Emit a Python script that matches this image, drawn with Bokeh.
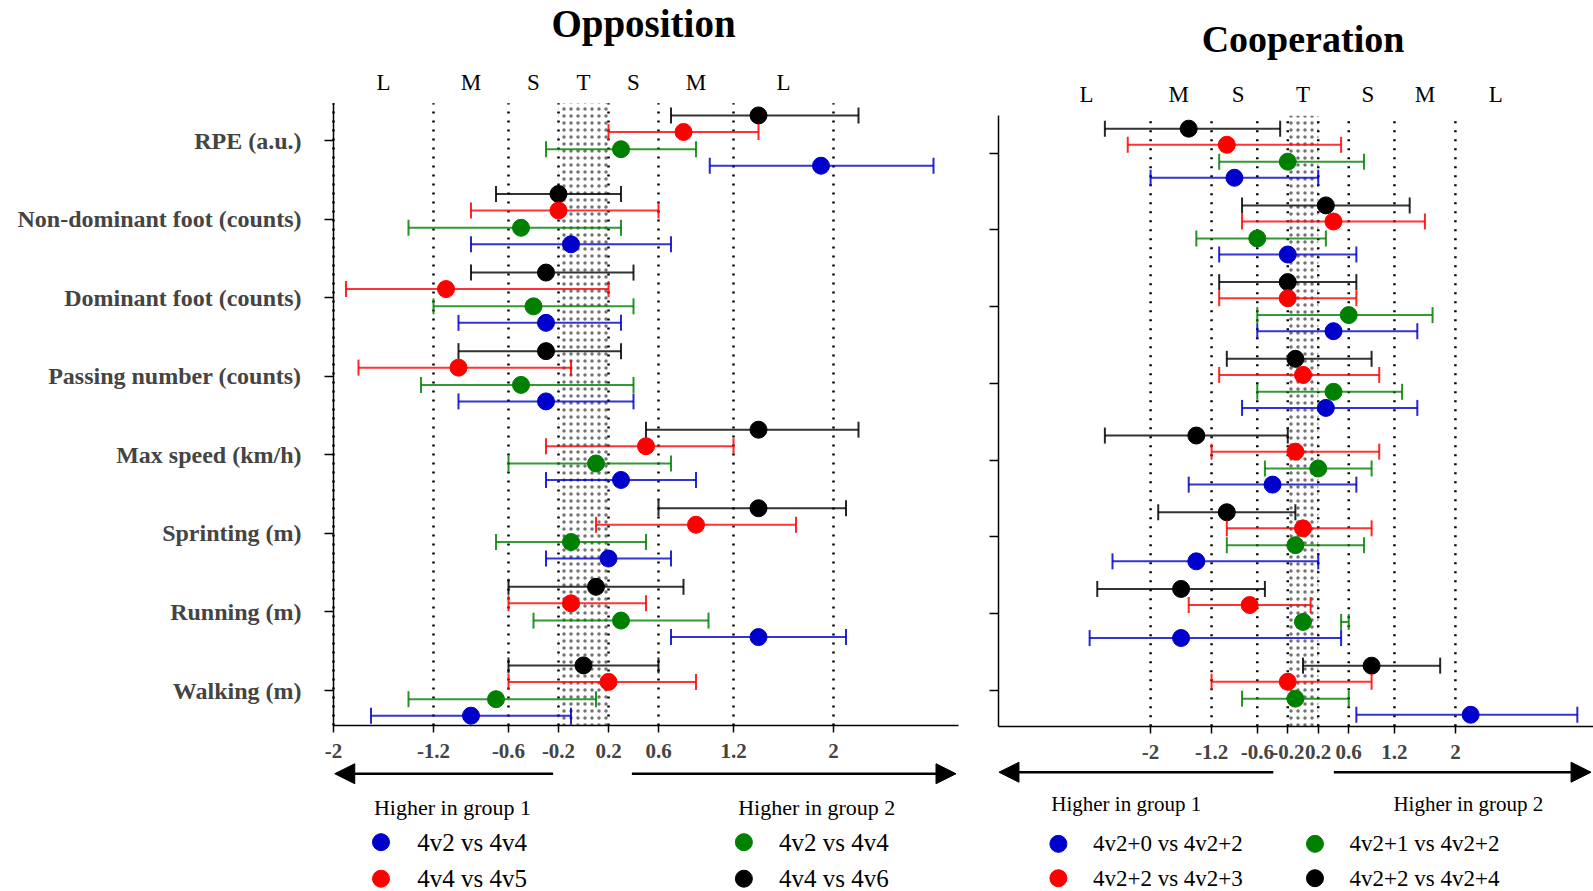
import math
from bokeh.plotting import figure
from bokeh.models import (Range1d, FixedTicker, NumeralTickFormatter, Arrow, NormalHead)
from bokeh.layouts import row
from bokeh.core.properties import value
from bokeh.embed import file_html
from bokeh.resources import INLINE

# ---------------- data ----------------
categories = ["RPE (a.u.)", "Non-dominant foot (counts)", "Dominant foot (counts)",
              "Passing number (counts)", "Max speed (km/h)", "Sprinting (m)",
              "Running (m)", "Walking (m)"]
thresholds = [-2, -1.2, -0.6, -0.2, 0.2, 0.6, 1.2, 2]
zone_labels = ["L", "M", "S", "T", "S", "M", "L"]

# Opposition (series: blue, red, green, black)
opp_names = ["4v2 vs 4v4", "4v4 vs 4v5", "4v2 vs 4v4", "4v4 vs 4v6"]
opp_blue_es = [1.90, -0.10, -0.30, -0.30, 0.30, 0.20, 1.40, -0.90]
opp_blue_lo = [1.01, -0.90, -1.00, -1.00, -0.30, -0.30, 0.70, -1.70]
opp_blue_hi = [2.80, 0.70, 0.30, 0.40, 0.90, 0.70, 2.10, -0.10]
opp_red_es = [0.80, -0.20, -1.10, -1.00, 0.50, 0.90, -0.10, 0.20]
opp_red_lo = [0.20, -0.90, -1.90, -1.80, -0.30, 0.10, -0.60, -0.60]
opp_red_hi = [1.40, 0.60, 0.20, -0.10, 1.20, 1.70, 0.50, 0.90]
opp_green_es = [0.30, -0.50, -0.40, -0.50, 0.10, -0.10, 0.30, -0.70]
opp_green_lo = [-0.30, -1.40, -1.20, -1.30, -0.60, -0.70, -0.40, -1.40]
opp_green_hi = [0.90, 0.30, 0.40, 0.40, 0.70, 0.50, 1.00, 0.10]
opp_black_es = [1.40, -0.20, -0.30, -0.30, 1.40, 1.40, 0.10, 0.00]
opp_black_lo = [0.70, -0.70, -0.90, -1.00, 0.50, 0.60, -0.60, -0.60]
opp_black_hi = [2.20, 0.30, 0.40, 0.30, 2.20, 2.10, 0.80, 0.60]

# Cooperation (series: blue, red, green, black)
coop_names = ["4v2+0 vs 4v2+2", "4v2+2 vs 4v2+3", "4v2+1 vs 4v2+2", "4v2+2 vs 4v2+4"]
coop_blue_es = [-0.90, -0.20, 0.40, 0.30, -0.40, -1.40, -1.60, 2.20]
coop_blue_lo = [-2.00, -1.10, -0.60, -0.80, -1.50, -2.50, -2.80, 0.70]
coop_blue_hi = [0.20, 0.70, 1.50, 1.50, 0.70, 0.20, 0.50, 3.60]
coop_red_es = [-1.00, 0.40, -0.20, 0.00, -0.10, 0.00, -0.70, -0.20]
coop_red_lo = [-2.30, -0.80, -1.10, -1.10, -1.20, -1.00, -1.50, -1.20]
coop_red_hi = [0.50, 1.60, 0.70, 1.00, 1.00, 0.90, 0.10, 0.90]
coop_green_es = [-0.20, -0.60, 0.60, 0.40, 0.20, -0.10, 0.00, -0.10]
coop_green_lo = [-1.10, -1.40, -0.60, -0.60, -0.50, -1.00, 0.50, -0.80]
coop_green_hi = [0.80, 0.30, 1.70, 1.30, 0.90, 0.80, 0.60, 0.60]
coop_black_es = [-1.50, 0.30, -0.20, -0.10, -1.40, -1.00, -1.60, 0.90]
coop_black_lo = [-2.60, -0.80, -1.10, -1.00, -2.60, -1.90, -2.70, 0.00]
coop_black_hi = [-0.30, 1.40, 0.70, 0.90, -0.20, -0.10, -0.50, 1.80]

# ---------------- style ----------------
SERIF = value("Liberation Serif")
COLORS = {"blue": "#0000CD", "red": "#FF0000", "green": "#008000", "black": "#000000"}
OFFSETS = {"black": 0.32, "red": 0.11, "green": -0.11, "blue": -0.32}
cat_y = [8 - i for i in range(len(categories))]


def make_panel(cfg, series, names):
    p = figure(width=cfg["w"], height=891,
               x_range=Range1d(*cfg["xr"]), y_range=Range1d(*cfg["yr"]),
               output_backend="svg", toolbar_location=None, min_border=0,
               outline_line_color=None, background_fill_color="white",
               border_fill_color="white")
    p.grid.visible = False
    bottom, top = cfg["xaxis_y"], cfg["yaxis_top"]

    # x axis
    xa = p.xaxis[0]
    xa.fixed_location = bottom
    xa.bounds = (cfg["yaxis_x"], cfg["xaxis_end"])
    xa.ticker = FixedTicker(ticks=thresholds)
    xa.formatter = NumeralTickFormatter(format="0.[0]")
    xa.axis_line_width = 1.5
    xa.major_tick_line_width = 1.5
    xa.major_tick_out = 7
    xa.major_tick_in = 0
    xa.minor_tick_line_color = None
    xa.major_label_text_font = "Liberation Serif"
    xa.major_label_text_font_style = "bold"
    xa.major_label_text_font_size = cfg["tick_fs"]
    xa.major_label_standoff = 12

    # y axis
    ya = p.yaxis[0]
    ya.fixed_location = cfg["yaxis_x"]
    ya.bounds = (bottom, top)
    ya.ticker = FixedTicker(ticks=cat_y)
    ya.axis_line_width = 1.5
    ya.major_tick_line_width = 1.5
    ya.major_tick_out = 9
    ya.major_tick_in = 0
    ya.minor_tick_line_color = None
    if cfg["show_cats"]:
        ya.major_label_overrides = {y: c for y, c in zip(cat_y, categories)}
        ya.major_label_text_font = "Liberation Serif"
        ya.major_label_text_font_style = "bold"
        ya.major_label_text_font_size = "24px"
        ya.major_label_standoff = 23
    else:
        ya.major_label_overrides = {y: "" for y in cat_y}

    # trivial zone (stippled)
    p.quad(left=[thresholds[3]], right=[thresholds[4]], bottom=[bottom], top=[top],
           fill_alpha=0, line_color=None, hatch_pattern="dot", hatch_color="black",
           hatch_scale=7, hatch_weight=1.0, hatch_alpha=0.55, level="underlay")
    # threshold dotted lines
    p.segment(x0=thresholds, y0=[bottom] * len(thresholds), x1=thresholds,
              y1=[top] * len(thresholds), line_color="black", line_width=2.5,
              line_dash="2 7", level="underlay")

    # error bars + points
    for key in ["black", "red", "green", "blue"]:
        es, lo, hi = series[key]
        c = COLORS[key]
        ys = [y + OFFSETS[key] for y in cat_y]
        p.segment(x0=lo, y0=ys, x1=hi, y1=ys, line_color=c, line_width=2, line_alpha=0.8)
        p.scatter(x=lo + hi, y=ys + ys, marker="dash", angle=math.pi / 2, size=16,
                  line_color=c, line_width=2, line_alpha=0.85)
        p.scatter(x=es, y=ys, size=17, fill_color=c, line_color=c)

    # title
    p.text(x=[cfg["title_x"]], y=[cfg["title_y"]], text=[cfg["title"]],
           text_font=SERIF, text_font_style="bold", text_font_size=cfg["title_fs"],
           text_align="center", text_baseline="middle", text_color="black")
    # zone labels
    p.text(x=cfg["zone_x"], y=[cfg["zone_y"]] * len(zone_labels), text=zone_labels,
           text_font=SERIF, text_font_size="23px", text_align="center",
           text_baseline="middle", text_color="black")

    # arrows
    ay = cfg["arrow_y"]
    for xs, xe in cfg["arrows"]:
        p.add_layout(Arrow(end=NormalHead(size=20, fill_color="black", line_color="black"),
                           x_start=xs, y_start=ay, x_end=xe, y_end=ay,
                           line_width=2.5, line_color="black"))

    # legend headers
    p.text(x=cfg["hdr_x"], y=[cfg["hdr_y"]] * 2,
           text=["Higher in group 1", "Higher in group 2"],
           text_font=SERIF, text_font_size=cfg["hdr_fs"], text_align="center",
           text_baseline="middle", text_color="black")
    # legend items (blue, red, green, black)
    lx = cfg["leg_dot_x"]
    ly = cfg["leg_y"]
    dot_x = [lx[0], lx[0], lx[1], lx[1]]
    dot_y = [ly[0], ly[1], ly[0], ly[1]]
    txt_x = [cfg["leg_txt_x"][0], cfg["leg_txt_x"][0], cfg["leg_txt_x"][1], cfg["leg_txt_x"][1]]
    p.scatter(x=dot_x, y=dot_y, size=17,
              fill_color=[COLORS[k] for k in ["blue", "red", "green", "black"]],
              line_color=[COLORS[k] for k in ["blue", "red", "green", "black"]])
    p.text(x=txt_x, y=dot_y, text=names, text_font=SERIF,
           text_font_size=cfg["leg_fs"], text_align="left", text_baseline="middle",
           text_color="black")
    return p


opp_series = {"blue": (opp_blue_es, opp_blue_lo, opp_blue_hi),
              "red": (opp_red_es, opp_red_lo, opp_red_hi),
              "green": (opp_green_es, opp_green_lo, opp_green_hi),
              "black": (opp_black_es, opp_black_lo, opp_black_hi)}
coop_series = {"blue": (coop_blue_es, coop_blue_lo, coop_blue_hi),
               "red": (coop_red_es, coop_red_lo, coop_red_hi),
               "green": (coop_green_es, coop_green_lo, coop_green_hi),
               "black": (coop_black_es, coop_black_lo, coop_black_hi)}

cfg1 = dict(w=965, xr=(-4.664, 3.056), yr=(-1.558, 9.783), xaxis_y=0.555, yaxis_top=8.476,
            yaxis_x=-2, xaxis_end=3.0, tick_fs="21px", show_cats=True,
            title="Opposition", title_x=0.48, title_y=9.49, title_fs="39px",
            zone_x=[-1.6, -0.9, -0.4, 0.0, 0.4, 0.9, 1.6], zone_y=8.743,
            arrow_y=-0.059, arrows=[(-0.243, -1.99), (0.387, 2.98)],
            hdr_x=[-1.048, 1.866], hdr_y=-0.484, hdr_fs="22px",
            leg_dot_x=[-1.62, 1.283], leg_y=[-0.93, -1.395], leg_txt_x=[-1.33, 1.564],
            leg_fs="25px")
cfg2 = dict(w=628, xr=(-4.429, 3.812), yr=(-1.624, 9.991), xaxis_y=0.531, yaxis_top=8.49,
            yaxis_x=-4, xaxis_end=3.812, tick_fs="21px", show_cats=False,
            title="Cooperation", title_x=0.0, title_y=9.495, title_fs="38px",
            zone_x=[-2.84, -1.63, -0.85, 0.0, 0.85, 1.6, 2.53], zone_y=8.761,
            arrow_y=-0.069, arrows=[(-0.39, -3.99), (0.405, 3.78)],
            hdr_x=[-2.32, 2.17], hdr_y=-0.481, hdr_fs="21px",
            leg_dot_x=[-3.21, 0.157], leg_y=[-1.003, -1.451], leg_txt_x=[-2.757, 0.61],
            leg_fs="23px")

p1 = make_panel(cfg1, opp_series, opp_names)
p2 = make_panel(cfg2, coop_series, coop_names)
layout = row(p1, p2, spacing=0)

open("out.html", "w").write(file_html(layout, INLINE))
